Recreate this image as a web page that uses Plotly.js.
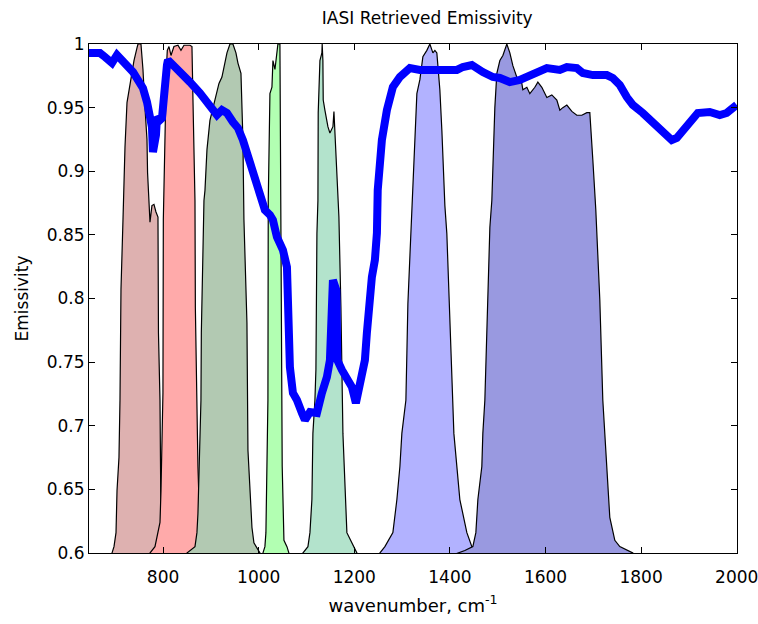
<!DOCTYPE html>
<html><head><meta charset="utf-8">
<script src="https://cdn.plot.ly/plotly-3.0.1.min.js"></script>
<style>html,body{margin:0;padding:0;background:#fff}#chart{width:758px;height:624px}</style>
</head><body><div id="chart"></div>
<script>
// Channel response bands (scaled), fill to zero
const band1X = [680, 693.1, 697.3, 701.5, 703.6, 707.7, 709.8, 711.9, 716.1, 717.5, 720.3, 724.5, 728.6, 734.9, 739.1, 745.4, 747.5, 753.7, 757.9, 762.1, 766.3, 767.5, 770.5, 772.6, 776.7, 780.9, 785.1, 789.3, 790.3, 793.5, 795.6, 803.9, 814.4, 828];
const band1Y = [0, 0.600, 0.605, 0.616, 0.649, 0.675, 0.720, 0.807, 0.862, 0.891, 0.919, 0.954, 0.964, 0.977, 0.987, 0.997, 1.0, 1.0, 0.980, 0.950, 0.925, 0.899, 0.875, 0.860, 0.873, 0.874, 0.868, 0.864, 0.773, 0.720, 0.624, 0.605, 0.600, 0];

const band2X = [760, 772.6, 783.0, 789.3, 793.5, 795.6, 799.7, 800.5, 801.8, 803.9, 806.0, 808.1, 808.8, 812.3, 816.5, 822.7, 831.1, 837.4, 843.7, 856.2, 860.4, 862.5, 864.6, 866.7, 867.5, 870.8, 872.9, 877.1, 883.4, 893.8, 906];
const band2Y = [0, 0.600, 0.605, 0.616, 0.624, 0.649, 0.726, 0.862, 0.891, 0.925, 0.964, 0.990, 0.995, 0.998, 0.991, 0.998, 0.999, 0.995, 0.999, 0.999, 0.998, 0.956, 0.925, 0.877, 0.793, 0.720, 0.668, 0.616, 0.608, 0.600, 0];

const band3X = [838, 849.9, 866.7, 870.8, 872.9, 875.0, 879.2, 880.0, 883.4, 885.5, 887.6, 891.8, 898.0, 904.3, 910.6, 916.9, 923.1, 927.3, 933.6, 939.9, 946.1, 952.4, 956.6, 962.9, 965.0, 967.0, 969.1, 975.4, 977.5, 985.9, 990.0, 1002.6, 1014];
const band3Y = [0, 0.600, 0.605, 0.616, 0.631, 0.668, 0.720, 0.773, 0.833, 0.877, 0.885, 0.917, 0.940, 0.950, 0.958, 0.969, 0.974, 0.981, 0.993, 1.0, 1.0, 0.993, 0.985, 0.977, 0.950, 0.925, 0.862, 0.781, 0.681, 0.620, 0.608, 0.600, 0];

const band4X = [1000, 1008.9, 1013.0, 1015.1, 1017.2, 1019.3, 1020.0, 1021.4, 1023.5, 1027.7, 1029.8, 1034.0, 1038.1, 1040.2, 1044.4, 1045.0, 1046.5, 1048.6, 1049.2, 1052.8, 1059.1, 1063.2, 1072];
const band4Y = [0, 0.600, 0.605, 0.616, 0.668, 0.720, 0.877, 0.927, 0.961, 0.966, 0.987, 0.980, 0.991, 1.0, 1.0, 0.966, 0.862, 0.720, 0.668, 0.610, 0.605, 0.600, 0];

const band5X = [1082, 1092.5, 1103.0, 1107.2, 1111.3, 1113.4, 1117.6, 1119.7, 1121.8, 1123.9, 1124.5, 1128.1, 1132.2, 1132.8, 1134.3, 1135.0, 1138.5, 1144.8, 1149.0, 1155.3, 1157.4, 1161.5, 1165.7, 1167.8, 1172.0, 1176.2, 1184.5, 1195.0, 1205.4, 1216];
const band5Y = [0, 0.600, 0.605, 0.616, 0.642, 0.694, 0.720, 0.744, 0.851, 0.877, 0.946, 0.987, 0.993, 1.0, 0.987, 0.956, 0.948, 0.935, 0.930, 0.935, 0.947, 0.917, 0.877, 0.864, 0.793, 0.694, 0.616, 0.608, 0.600, 0];

const band6X = [1240, 1253.5, 1264.0, 1280.7, 1289.1, 1295.4, 1299.5, 1307.9, 1310.0, 1312.1, 1316.3, 1320.4, 1322.5, 1326.7, 1330.9, 1337.2, 1343.5, 1351.8, 1358.1, 1364.4, 1368.6, 1372.7, 1374.8, 1379.0, 1383.2, 1389.5, 1393.6, 1400.0, 1404.1, 1408.3, 1420.8, 1435.5, 1445.9, 1466.8, 1480];
const band6Y = [0, 0.600, 0.605, 0.616, 0.642, 0.668, 0.694, 0.720, 0.757, 0.796, 0.833, 0.870, 0.899, 0.932, 0.961, 0.972, 0.990, 0.995, 1.0, 0.993, 0.995, 0.993, 0.985, 0.964, 0.932, 0.873, 0.851, 0.781, 0.734, 0.694, 0.642, 0.616, 0.605, 0.600, 0];

const band7X = [1395, 1410, 1431.3, 1448.0, 1454.3, 1458.5, 1466.8, 1468.9, 1473.1, 1477.3, 1479.4, 1483.6, 1487.7, 1489.8, 1494.0, 1498.2, 1504.5, 1510.8, 1519.1, 1525.4, 1531.7, 1540.0, 1550.5, 1552.6, 1561.0, 1567.2, 1577.7, 1584.0, 1592.3, 1602.8, 1613.2, 1623.7, 1630.0, 1636.2, 1644.6, 1655.1, 1665.5, 1676.0, 1686.4, 1692.7, 1696.9, 1699.0, 1705.2, 1713.6, 1719.9, 1728.2, 1734.5, 1745.0, 1755.4, 1782.6, 1810];
const band7Y = [0, 0.599, 0.602, 0.605, 0.616, 0.642, 0.668, 0.694, 0.720, 0.773, 0.817, 0.856, 0.877, 0.909, 0.950, 0.977, 0.987, 0.991, 1.0, 0.993, 0.983, 0.974, 0.969, 0.964, 0.966, 0.961, 0.966, 0.970, 0.966, 0.958, 0.960, 0.956, 0.948, 0.950, 0.952, 0.947, 0.944, 0.944, 0.946, 0.946, 0.925, 0.909, 0.870, 0.799, 0.720, 0.668, 0.628, 0.610, 0.605, 0.600, 0];

// Retrieved emissivity
const emisX = [645, 668.0, 678.5, 693.1, 703.6, 714.0, 726.6, 737.0, 747.5, 757.9, 766.3, 772.6, 776.7, 778.8, 785.1, 787.2, 793.5, 797.7, 799.7, 801.8, 808.1, 810.2, 824.8, 841.6, 856.2, 877.1, 891.8, 904.3, 912.7, 923.1, 933.6, 946.1, 956.6, 967.0, 977.5, 988.0, 998.4, 1006.8, 1013.0, 1023.5, 1029.8, 1038.1, 1050.7, 1059.1, 1061.1, 1063.2, 1065.3, 1071.6, 1080.0, 1090.4, 1096.7, 1107.2, 1121.8, 1132.2, 1142.7, 1149.0, 1152.2, 1154.0, 1155.3, 1162.5, 1164.5, 1174.1, 1184.5, 1195.0, 1203.3, 1211.7, 1222.2, 1226.3, 1230.5, 1236.8, 1243.1, 1247.3, 1249.0, 1253.5, 1257.7, 1268.2, 1280.7, 1295.4, 1316.3, 1337.2, 1364.4, 1393.6, 1414.6, 1427.1, 1445.9, 1468.9, 1489.8, 1504.5, 1525.4, 1546.3, 1563.0, 1583.9, 1602.8, 1630.0, 1644.6, 1665.5, 1678.1, 1699.0, 1728.2, 1740.8, 1755.4, 1770.1, 1782.6, 1803.5, 1824.4, 1845.3, 1864.2, 1874.6, 1887.2, 1901.8, 1918.5, 1943.6, 1964.5, 1979.2, 1989.6, 2000];
const emisY = [0.9929, 0.9929, 0.9898, 0.9851, 0.9914, 0.9874, 0.9835, 0.9780, 0.9717, 0.9654, 0.9544, 0.9458, 0.9348, 0.9151, 0.9285, 0.9426, 0.9403, 0.9418, 0.9505, 0.9693, 0.9835, 0.9874, 0.9819, 0.9772, 0.9701, 0.9615, 0.9544, 0.9466, 0.9442, 0.9481, 0.9458, 0.9387, 0.9340, 0.9245, 0.9112, 0.8994, 0.8876, 0.8750, 0.8695, 0.8656, 0.8617, 0.8483, 0.8381, 0.8247, 0.7988, 0.7729, 0.7461, 0.7257, 0.7202, 0.7100, 0.7045, 0.7108, 0.7100, 0.7257, 0.7383, 0.7516, 0.7729, 0.7988, 0.8145, 0.8066, 0.7516, 0.7438, 0.7383, 0.7304, 0.7178, 0.7359, 0.7516, 0.7729, 0.7988, 0.8169, 0.8302, 0.8514, 0.8852, 0.9065, 0.9245, 0.9481, 0.9662, 0.9741, 0.9811, 0.9796, 0.9796, 0.9796, 0.9796, 0.9819, 0.9835, 0.9780, 0.9741, 0.9733, 0.9701, 0.9717, 0.9741, 0.9780, 0.9811, 0.9796, 0.9819, 0.9811, 0.9772, 0.9756, 0.9756, 0.9733, 0.9678, 0.9583, 0.9521, 0.9458, 0.9379, 0.9300, 0.9245, 0.9261, 0.9324, 0.9387, 0.9458, 0.9466, 0.9442, 0.9458, 0.9481, 0.9521];

const xTickVals = [800, 1000, 1200, 1400, 1600, 1800, 2000];
const yTickVals = [0.6, 0.65, 0.7, 0.75, 0.8, 0.85, 0.9, 0.95, 1];
const yTickText = ['0.6', '0.65', '0.7', '0.75', '0.8', '0.85', '0.9', '0.95', '1'];

const bands = [
  [band1X, band1Y, 'rgb(222,177,176)'],
  [band2X, band2Y, 'rgb(255,170,170)'],
  [band3X, band3Y, 'rgb(178,201,178)'],
  [band4X, band4Y, 'rgb(178,255,178)'],
  [band5X, band5Y, 'rgb(179,227,204)'],
  [band6X, band6Y, 'rgb(178,178,255)'],
  [band7X, band7Y, 'rgb(153,153,224)']
];

const traces = bands.map(b => ({
  x: b[0], y: b[1], type: 'scatter', mode: 'lines',
  fill: 'tozeroy', fillcolor: b[2],
  line: {color: '#000', width: 1.2}, hoverinfo: 'skip', showlegend: false
}));
traces.push({
  x: emisX, y: emisY, type: 'scatter', mode: 'lines',
  line: {color: 'rgb(0,0,255)', width: 8}, showlegend: false
});

const font = {family: 'DejaVu Sans, sans-serif', size: 17, color: '#000'};
const xTitleFont = {family: 'DejaVu Sans, sans-serif', size: 18, color: '#000'};
const layout = {
  width: 758, height: 624,
  margin: {l: 89, r: 21, t: 44, b: 71},
  paper_bgcolor: '#fff', plot_bgcolor: '#fff',
  font: font,
  title: {text: 'IASI Retrieved Emissivity', font: font, x: 0.522, xref: 'paper', xanchor: 'center', y: 0.971, yanchor: 'middle'},
  xaxis: {
    range: [645, 2000.6], tickvals: xTickVals, ticks: 'inside', ticklen: 6, tickcolor: '#000',
    showline: true, linecolor: '#000', linewidth: 1, mirror: 'ticks', showgrid: false, zeroline: false,
    tickfont: font, ticklabelstandoff: 9, ticklabeloverflow: 'allow',
    title: {text: 'wavenumber, cm<sup>-1</sup>', font: xTitleFont, standoff: 12}
  },
  yaxis: {
    range: [0.6, 1], tickvals: yTickVals, ticktext: yTickText, ticks: 'inside', ticklen: 6, tickcolor: '#000',
    showline: true, linecolor: '#000', linewidth: 1, mirror: 'ticks', showgrid: false, zeroline: false,
    tickfont: font,
    title: {text: 'Emissivity', font: font, standoff: 13}
  }
};
Plotly.newPlot('chart', traces, layout, {staticPlot: true, displayModeBar: false});
</script>
</body></html>
